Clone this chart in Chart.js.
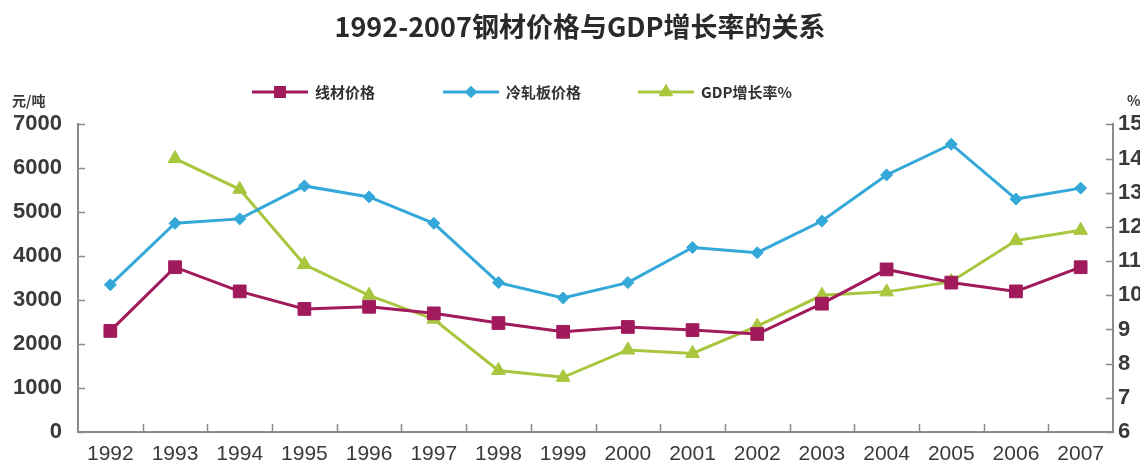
<!DOCTYPE html>
<html>
<head>
<meta charset="utf-8">
<script src="https://cdn.jsdelivr.net/npm/chart.js@4"></script>
<style>
  html, body { margin: 0; padding: 0; background: #fff; overflow: hidden; }
  #caixa { width: 1160px; height: 465px; }
</style>
</head>
<body>
<div id="caixa"><canvas id="grafico" width="1160" height="465"></canvas></div>
<script>
const anos = ['1992', '1993', '1994', '1995', '1996', '1997', '1998', '1999', '2000', '2001', '2002', '2003', '2004', '2005', '2006', '2007'];
// 元/吨
const precoFio = [2300, 3750, 3200, 2800, 2850, 2700, 2480, 2280, 2390, 2320, 2230, 2920, 3700, 3400, 3200, 3750];
const precoLaminado = [3350, 4750, 4850, 5600, 5350, 4750, 3400, 3050, 3400, 4200, 4080, 4800, 5850, 6550, 5300, 5550];
// %
const crescimentoPib = [null, 14.0, 13.1, 10.9, 10.0, 9.3, 7.8, 7.6, 8.4, 8.3, 9.1, 10.0, 10.1, 10.4, 11.6, 11.9];

const nomesSeries = ['线材价格', '冷轧板价格', 'GDP增长率%'];
const ticksPreco = [0, 1000, 2000, 3000, 4000, 5000, 6000, 7000];
const ticksPib = [6, 7, 8, 9, 10, 11, 12, 13, 14, 15];

const corFio = '#a01a5c';
const corLaminado = '#34a8d8';
const corPib = '#a8c63e';
const corEixo = '#8a8a8a';
const corTexto = '#3a3a3a';

// marcas curtas viradas para dentro da area do grafico
const marcasInternas = {
  id: 'marcasInternas',
  afterDraw(chart) {
    const { ctx, chartArea, scales } = chart;
    ctx.save();
    ctx.strokeStyle = corEixo;
    ctx.lineWidth = 1.5;
    ctx.beginPath();
    scales.y.ticks.forEach(t => {
      const y = Math.round(scales.y.getPixelForValue(t.value)) + 0.5;
      ctx.moveTo(chartArea.left, y);
      ctx.lineTo(chartArea.left + 7, y);
    });
    scales.y1.ticks.forEach(t => {
      const y = Math.round(scales.y1.getPixelForValue(t.value)) + 0.5;
      ctx.moveTo(chartArea.right, y);
      ctx.lineTo(chartArea.right - 7, y);
    });
    const passo = scales.x.getPixelForValue(1) - scales.x.getPixelForValue(0);
    for (let i = 1; i < anos.length; i++) {
      const x = Math.round(scales.x.getPixelForValue(i) - passo / 2) + 0.5;
      ctx.moveTo(x, chartArea.bottom);
      ctx.lineTo(x, chartArea.bottom - 8);
    }
    ctx.stroke();

    // unidades dos eixos
    ctx.fillStyle = corTexto;
    ctx.font = 'bold 14px "Noto Sans CJK SC", sans-serif';
    ctx.textBaseline = 'middle';
    ctx.textAlign = 'left';
    ctx.fillText('元/吨', 12, 101);
    ctx.fillText('%', chartArea.right + 14, 101);
    ctx.restore();
  }
};

// legenda com linha + marcador
const legendaLinhas = {
  id: 'legendaLinhas',
  afterDraw(chart) {
    const { ctx } = chart;
    const inicios = [252, 443, 638];
    const y = 92;
    ctx.save();
    chart.data.datasets.forEach((ds, i) => {
      const x0 = inicios[i];
      ctx.strokeStyle = ds.borderColor;
      ctx.lineWidth = 3;
      ctx.beginPath();
      ctx.moveTo(x0, y);
      ctx.lineTo(x0 + 56, y);
      ctx.stroke();
      ctx.fillStyle = ds.pointBackgroundColor;
      ctx.strokeStyle = ds.pointBackgroundColor;
      Chart.helpers.drawPoint(ctx, { pointStyle: ds.pointStyle, radius: ds.pointRadius * 0.7, rotation: 0, borderWidth: 1 }, x0 + 28, y);
      ctx.fillStyle = '#333';
      ctx.font = 'bold 15px "Noto Sans CJK SC", sans-serif';
      ctx.textAlign = 'left';
      ctx.textBaseline = 'middle';
      ctx.fillText(ds.label, x0 + 63, y);
    });
    ctx.restore();
  }
};

function serie(label, dados, cor, estilo, raio, eixo) {
  return {
    label,
    data: dados,
    yAxisID: eixo,
    borderColor: cor,
    backgroundColor: cor,
    borderWidth: 3,
    pointStyle: estilo,
    pointRadius: raio,
    pointBackgroundColor: cor,
    pointBorderColor: cor,
    pointBorderWidth: 1,
    tension: 0,
    spanGaps: false
  };
}

const semSeparador = valor => String(valor);

function gerarGrafico() {
  const ctx = document.getElementById('grafico').getContext('2d');
  new Chart(ctx, {
    type: 'line',
    data: {
      labels: anos,
      datasets: [
        serie(nomesSeries[0], precoFio, corFio, 'rect', 9, 'y'),
        serie(nomesSeries[1], precoLaminado, corLaminado, 'rectRot', 6, 'y'),
        serie(nomesSeries[2], crescimentoPib, corPib, 'triangle', 8, 'y1')
      ]
    },
    options: {
      responsive: false,
      animation: false,
      layout: { padding: 0 },
      plugins: {
        legend: { display: false },
        tooltip: { enabled: false },
        title: {
          display: true,
          text: '1992-2007钢材价格与GDP增长率的关系',
          color: '#2a2a2a',
          font: { family: '"Noto Sans CJK SC", sans-serif', size: 27, weight: 'bold' },
          padding: { top: 11, bottom: 81 }
        }
      },
      scales: {
        x: {
          offset: true,
          grid: { display: false, drawTicks: false },
          border: { display: true, color: corEixo, width: 2 },
          ticks: {
            autoSkip: false,
            maxRotation: 0,
            padding: 10,
            color: corTexto,
            font: { family: '"Liberation Sans", Arial, sans-serif', size: 21 }
          },
          afterFit: s => { s.height = 33; }
        },
        y: {
          position: 'left',
          min: 0,
          max: 7000,
          afterBuildTicks: s => { s.ticks = ticksPreco.map(v => ({ value: v })); },
          grid: { display: false, drawTicks: false },
          border: { display: true, color: corEixo, width: 2 },
          ticks: {
            padding: 16,
            color: corTexto,
            callback: semSeparador,
            font: { family: '"Liberation Sans", Arial, sans-serif', size: 22, weight: 'bold' }
          },
          afterFit: s => { s.width = 78; }
        },
        y1: {
          position: 'right',
          min: 6,
          max: 15,
          afterBuildTicks: s => { s.ticks = ticksPib.map(v => ({ value: v })); },
          grid: { display: false, drawTicks: false },
          border: { display: true, color: corEixo, width: 2 },
          ticks: {
            padding: 5,
            color: corTexto,
            callback: semSeparador,
            font: { family: '"Liberation Sans", Arial, sans-serif', size: 22, weight: 'bold' }
          },
          afterFit: s => { s.width = 47; }
        }
      }
    },
    plugins: [marcasInternas, legendaLinhas]
  });
}

window.onload = gerarGrafico;
</script>
</body>
</html>
